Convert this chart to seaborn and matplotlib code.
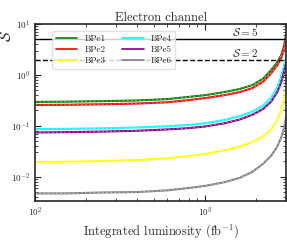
import numpy as np
import pandas as pd
import seaborn as sns
import matplotlib.pyplot as plt
from matplotlib.ticker import NullFormatter, LogLocator

# integrated luminosity (fb^-1)
lumi = [100, 150, 250, 400, 600, 800, 1000, 1300, 1600, 1900, 2200, 2450, 2650, 2800, 2900, 2960, 3000]

bpe1 = [0.295, 0.298, 0.305, 0.315, 0.335, 0.37, 0.40, 0.46, 0.53, 0.63, 0.85, 1.25, 1.75, 2.4, 3.5, 5.0, 6.3]
bpe2 = [0.257, 0.259, 0.265, 0.274, 0.29, 0.32, 0.35, 0.40, 0.46, 0.55, 0.74, 1.08, 1.52, 2.1, 3.0, 4.4, 5.6]
bpe3 = [0.0195, 0.0197, 0.0203, 0.0213, 0.023, 0.0255, 0.028, 0.033, 0.039, 0.048, 0.062, 0.085, 0.125, 0.2, 0.3, 0.42, 0.55]
bpe4 = [0.086, 0.087, 0.089, 0.093, 0.098, 0.104, 0.112, 0.13, 0.155, 0.19, 0.25, 0.36, 0.55, 0.9, 1.4, 1.9, 2.3]
bpe5 = [0.074, 0.075, 0.077, 0.080, 0.085, 0.090, 0.097, 0.112, 0.133, 0.165, 0.215, 0.30, 0.45, 0.70, 1.05, 1.4, 1.75]
bpe6 = [0.0047, 0.0047, 0.0049, 0.0050, 0.0054, 0.0060, 0.0066, 0.0078, 0.0095, 0.0125, 0.018, 0.026, 0.038, 0.058, 0.085, 0.115, 0.15]

names = ['BPe1', 'BPe2', 'BPe3', 'BPe4', 'BPe5', 'BPe6']
colors = ['green', 'red', 'yellow', 'cyan', 'purple', 'gray']
series = [bpe1, bpe2, bpe3, bpe4, bpe5, bpe6]

rows = []
for n, s in zip(names, series):
    for l, v in zip(lumi, s):
        rows.append((n, l, v))
df = pd.DataFrame(rows, columns=['bp', 'lumi', 'S'])

sns.set_style('ticks')
plt.rcParams['font.family'] = ['cmr10']
plt.rcParams['mathtext.fontset'] = 'cm'
plt.rcParams['axes.formatter.use_mathtext'] = True
plt.rcParams['axes.unicode_minus'] = False

fig = plt.figure(figsize=(2.87, 2.45), dpi=100)
ax = fig.add_axes([0.122, 0.18, 0.875, 0.722])

sns.lineplot(data=df, x='lumi', y='S', hue='bp', palette=dict(zip(names, colors)),
             linewidth=1.5, ax=ax, legend=False)
# thin white dashes on top of each curve
for n in names:
    d = df[df.bp == n]
    ax.plot(d.lumi, d.S, color='white', lw=0.5, ls=(0, (3, 3)), alpha=0.6)

ax.axhline(5, color='black', lw=1.0)
ax.axhline(2, color='black', lw=1.0, ls='--')
ax.text(2050, 5.2, r'$\mathcal{S} = 5$', ha='right', va='bottom', fontsize=8)
ax.text(2050, 2.05, r'$\mathcal{S} = 2$', ha='right', va='bottom', fontsize=8)

ax.set_xscale('log')
ax.set_yscale('log')
ax.set_xlim(100, 3000)
ax.set_ylim(3.35e-3, 10)
ax.yaxis.set_major_locator(LogLocator(base=10, numticks=10))
ax.yaxis.set_minor_locator(LogLocator(base=10, subs=np.arange(2, 10), numticks=10))
ax.xaxis.set_minor_formatter(NullFormatter())
ax.yaxis.set_minor_formatter(NullFormatter())
ax.tick_params(which='both', direction='in', top=True, right=True, labelsize=6.5)
ax.tick_params(which='major', length=4, width=0.8)
ax.tick_params(which='minor', length=2, width=0.6)
for sp in ax.spines.values():
    sp.set_linewidth(1.2)

ax.set_title('Electron channel', fontsize=9, pad=2)
ax.set_xlabel(r'Integrated luminosity (fb$^{-1}$)', fontsize=9, labelpad=2)
ax.set_ylabel(r'$\mathcal{S}$', fontsize=11)
ax.yaxis.set_label_coords(-0.085, 0.93)

handles = [plt.Line2D([], [], color=c, lw=1.2) for c in colors]
ax.legend(handles, names, ncol=2, loc='upper left', bbox_to_anchor=(0.05, 0.985),
          fontsize=6.5, frameon=True, fancybox=True, edgecolor='0.85',
          columnspacing=1.8, handlelength=2.4, labelspacing=0.3, borderpad=0.4)

fig.savefig('out.png', dpi=100)
